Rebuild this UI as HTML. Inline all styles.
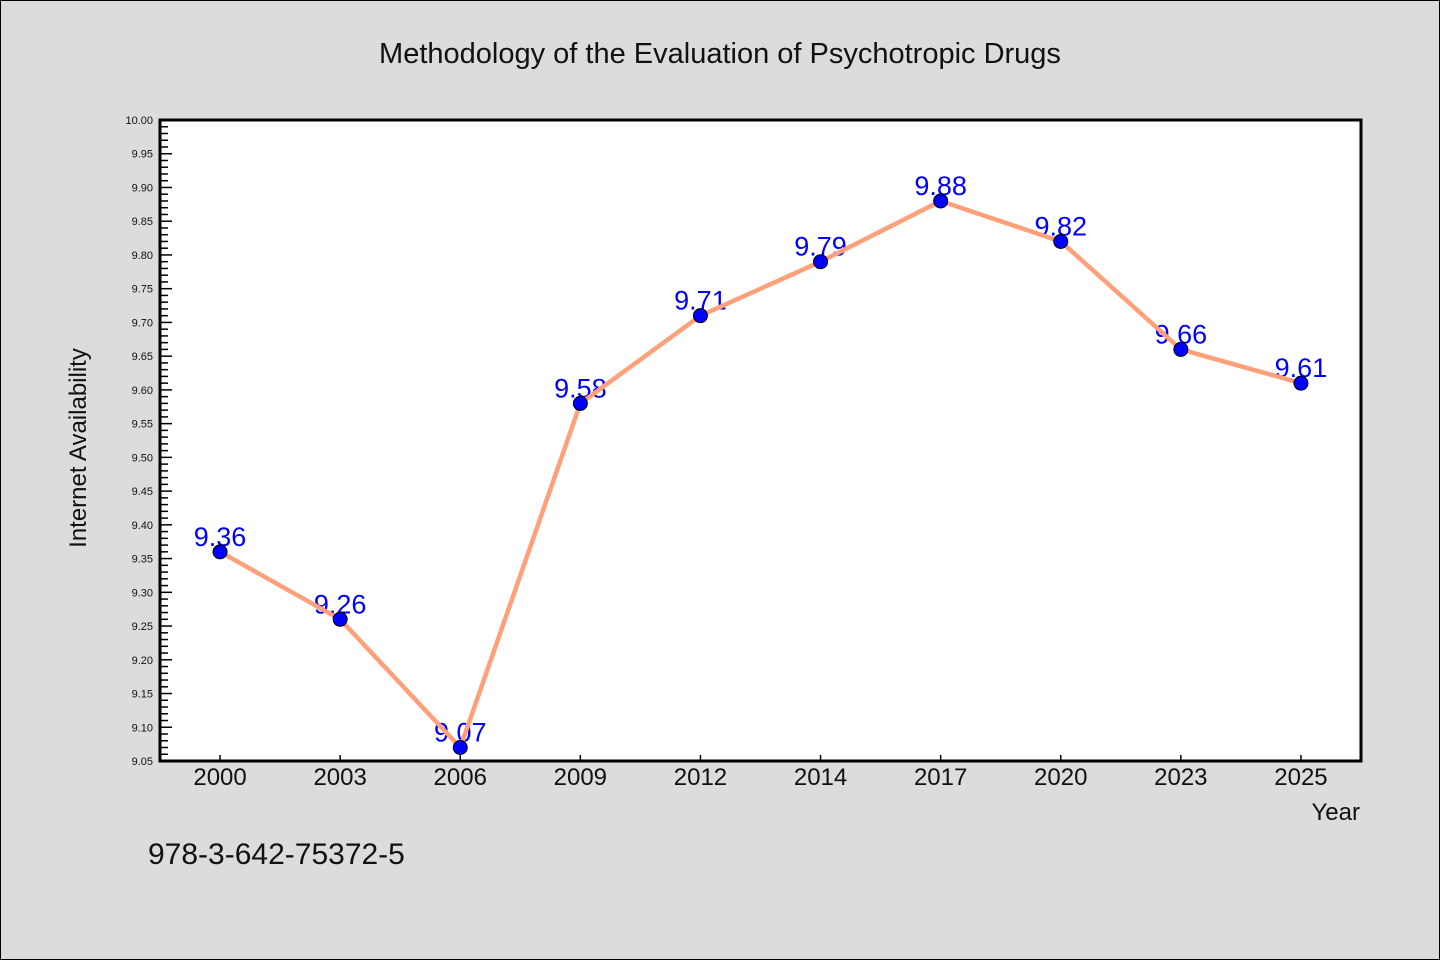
<!DOCTYPE html>
<html><head><meta charset="utf-8"><style>
html,body{margin:0;padding:0;background:#dcdcdc;}
svg{display:block;}
text{font-family:"WenQuanYi Zen Hei","Liberation Sans",sans-serif;}
</style></head><body>
<svg width="1440" height="960">
<rect x="0.5" y="0.5" width="1439" height="959" fill="#dcdcdc" stroke="#000"/>
<text x="720" y="63" font-size="29" text-anchor="middle" fill="#111">Methodology of the Evaluation of Psychotropic Drugs</text>
<rect x="160" y="120" width="1201" height="641" fill="#fff"/>
<g id="axes"></g>
<g id="series"></g>
<rect x="160" y="120" width="1201" height="641" fill="none" stroke="#000" stroke-width="3"/>
<text x="86" y="448" font-size="24" text-anchor="middle" fill="#111" transform="rotate(-90 86 448)">Internet Availability</text>
<text x="1360" y="820" font-size="24" text-anchor="end" fill="#111">Year</text>
<text x="148" y="864" font-size="30" fill="#111">978-3-642-75372-5</text>
</svg>
<script>
const categories=["2000","2003","2006","2009","2012","2014","2017","2020","2023","2025"];
const values=[9.36,9.26,9.07,9.58,9.71,9.79,9.88,9.82,9.66,9.61];
const valueLabels=["9.36","9.26","9.07","9.58","9.71","9.79","9.88","9.82","9.66","9.61"];
const yTicks=[9.05,9.10,9.15,9.20,9.25,9.30,9.35,9.40,9.45,9.50,9.55,9.60,9.65,9.70,9.75,9.80,9.85,9.90,9.95,10.00];
const NS="http://www.w3.org/2000/svg";
const L=160,R=1361,T=120,B=761,yMin=9.05,yMax=10.0;
const band=(R-L)/categories.length;
function x(i){return L+band*(i+0.5);}
function y(v){return B-(v-yMin)/(yMax-yMin)*(B-T);}
function mk(t,a){const e=document.createElementNS(NS,t);for(const k in a)e.setAttribute(k,a[k]);return e;}
const ax=document.getElementById('axes'),se=document.getElementById('series');
yTicks.forEach((v,j)=>{
  const yy=y(v);
  const t=mk('line',{x1:L,x2:L+12,y1:yy,y2:yy,stroke:'#000','stroke-width':1.5});
  
  
  ax.appendChild(t);
  const lb=mk('text',{x:L-7,y:yy+4,'font-size':11,'text-anchor':'end',fill:'#111'});
  lb.textContent=v.toFixed(2);
  
  
  ax.appendChild(lb);
  if(j<yTicks.length-1){
    for(let m=1;m<5;m++){
      const ym=y(v+0.01*m);
      const mt=mk('line',{x1:L,x2:L+8,y1:ym,y2:ym,stroke:'#000','stroke-width':1.5});
      
      
      ax.appendChild(mt);
    }
  }
});
categories.forEach((c,i)=>{
  const t=mk('line',{x1:x(i),x2:x(i),y1:B,y2:B-6,stroke:'#000','stroke-width':1.5});
  
  
  ax.appendChild(t);
  const lb=mk('text',{x:x(i),y:B+24,'font-size':24,'text-anchor':'middle',fill:'#111'});
  lb.textContent=c;
  
  
  ax.appendChild(lb);
});
values.forEach((v,i)=>{
  const lb=mk('text',{x:x(i),y:y(v)-6,'font-size':27,'text-anchor':'middle',fill:'#0000ff'});
  lb.textContent=valueLabels[i];
  
  
  se.appendChild(lb);
});
const line=mk('polyline',{points:values.map((v,i)=>x(i)+','+y(v)).join(' '),fill:'none',stroke:'#ffa07a','stroke-width':4.5,'stroke-linejoin':'round'});


se.appendChild(line);
values.forEach((v,i)=>{
  const c=mk('circle',{cx:x(i),cy:y(v),r:7,fill:'#0000ff',stroke:'#000','stroke-width':1});
  
  
  se.appendChild(c);
});
</script>
</body></html>
